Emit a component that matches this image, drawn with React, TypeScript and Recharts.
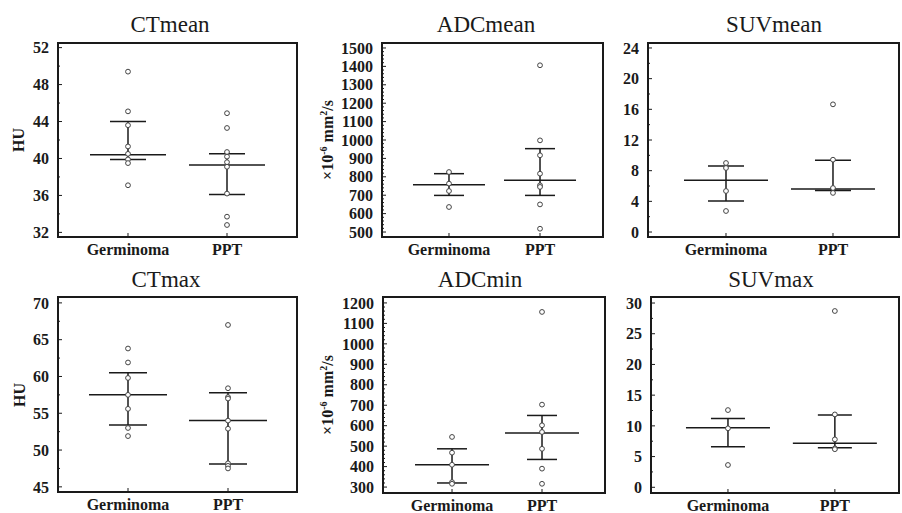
import { ComposedChart, Scatter, XAxis, YAxis, ErrorBar } from 'recharts';

const groups = ['Germinoma', 'PPT'];

// CTmean (HU)
const ctMeanGerm = [49.4, 45.1, 43.6, 41.3, 40.5, 39.9, 39.5, 37.1];
const ctMeanPpt = [44.9, 43.3, 40.7, 40.2, 39.6, 39.1, 36.2, 33.7, 32.8];
const ctMeanMedian = [40.4, 39.3];
const ctMeanQ1 = [39.9, 36.1];
const ctMeanQ3 = [44.0, 40.5];
const ctMeanTicks = [32, 36, 40, 44, 48, 52];

// ADCmean (x10^-6 mm2/s)
const adcMeanGerm = [826, 763, 723, 636];
const adcMeanPpt = [1406, 998, 917, 817, 754, 745, 650, 518];
const adcMeanMedian = [757, 781];
const adcMeanQ1 = [699, 699];
const adcMeanQ3 = [817, 953];
const adcMeanTicks = [500, 600, 700, 800, 900, 1000, 1100, 1200, 1300, 1400, 1500];

// SUVmean
const suvMeanGerm = [9.0, 8.35, 5.35, 2.74];
const suvMeanPpt = [16.65, 9.43, 5.74, 5.1];
const suvMeanMedian = [6.74, 5.6];
const suvMeanQ1 = [4.04, 5.43];
const suvMeanQ3 = [8.6, 9.35];
const suvMeanTicks = [0, 4, 8, 12, 16, 20, 24];

// CTmax (HU)
const ctMaxGerm = [63.8, 61.9, 59.8, 57.5, 55.6, 53.0, 51.9];
const ctMaxPpt = [67.0, 58.4, 57.2, 57.0, 54.0, 52.9, 48.2, 47.85, 47.5];
const ctMaxMedian = [57.5, 54.0];
const ctMaxQ1 = [53.4, 48.1];
const ctMaxQ3 = [60.5, 57.8];
const ctMaxTicks = [45, 50, 55, 60, 65, 70];

// ADCmin (x10^-6 mm2/s)
const adcMinGerm = [545, 468, 409, 324, 316];
const adcMinPpt = [1156, 703, 602, 569, 487, 390, 316];
const adcMinMedian = [409, 564];
const adcMinQ1 = [320, 435];
const adcMinQ3 = [487, 650];
const adcMinTicks = [300, 400, 500, 600, 700, 800, 900, 1000, 1100, 1200];

// SUVmax
const suvMaxGerm = [12.57, 9.6, 3.63];
const suvMaxPpt = [28.7, 11.86, 7.8, 6.34, 6.2];
const suvMaxMedian = [9.7, 7.15];
const suvMaxQ1 = [6.6, 6.45];
const suvMaxQ3 = [11.2, 11.75];
const suvMaxTicks = [0, 5, 10, 15, 20, 25, 30];

const INK = '#1a1a1a';
const FONT = "'Liberation Serif', 'DejaVu Serif', serif";

const panels = [
  {
    title: 'CTmean', label: 'HU', germ: ctMeanGerm, ppt: ctMeanPpt, median: ctMeanMedian, q1: ctMeanQ1, q3: ctMeanQ3,
    ticks: ctMeanTicks, minorStep: 2, yDomain: [31.5, 52.5], xDomain: [0.293, 2.707],
    box: { l: 58, r: 297, t: 43, b: 237 }, left: 0, titleX: 170, titleTop: 13, labelX: 19, medHalf: 38, capHalf: 18,
  },
  {
    title: 'ADCmean', label: 'adc', germ: adcMeanGerm, ppt: adcMeanPpt, median: adcMeanMedian, q1: adcMeanQ1, q3: adcMeanQ3,
    ticks: adcMeanTicks, minorStep: 20, yDomain: [473, 1527], xDomain: [0.264, 2.692],
    box: { l: 382, r: 603, t: 43, b: 237 }, left: 300, titleX: 486, titleTop: 13, labelX: 328, medHalf: 36, capHalf: 15,
  },
  {
    title: 'SUVmean', label: '', germ: suvMeanGerm, ppt: suvMeanPpt, median: suvMeanMedian, q1: suvMeanQ1, q3: suvMeanQ3,
    ticks: suvMeanTicks, minorStep: 2, yDomain: [-0.65, 24.65], xDomain: [0.271, 2.617],
    box: { l: 648, r: 899, t: 43, b: 237 }, left: 600, titleX: 774, titleTop: 13, labelX: 0, medHalf: 42, capHalf: 18,
  },
  {
    title: 'CTmax', label: 'HU', germ: ctMaxGerm, ppt: ctMaxPpt, median: ctMaxMedian, q1: ctMaxQ1, q3: ctMaxQ3,
    ticks: ctMaxTicks, minorStep: 2.5, yDomain: [44.3, 70.8], xDomain: [0.3, 2.69],
    box: { l: 58, r: 297, t: 297, b: 492 }, left: 0, titleX: 166, titleTop: 268, labelX: 20, medHalf: 39, capHalf: 19,
  },
  {
    title: 'ADCmin', label: 'adc', germ: adcMinGerm, ppt: adcMinPpt, median: adcMinMedian, q1: adcMinQ1, q3: adcMinQ3,
    ticks: adcMinTicks, minorStep: 20, yDomain: [271, 1229], xDomain: [0.233, 2.7],
    box: { l: 383, r: 605, t: 297, b: 493 }, left: 300, titleX: 480, titleTop: 268, labelX: 328, medHalf: 37, capHalf: 15,
  },
  {
    title: 'SUVmax', label: '', germ: suvMaxGerm, ppt: suvMaxPpt, median: suvMaxMedian, q1: suvMaxQ1, q3: suvMaxQ3,
    ticks: suvMaxTicks, minorStep: 2.5, yDomain: [-0.93, 30.98], xDomain: [0.28, 2.6],
    box: { l: 651, r: 899, t: 297, b: 493 }, left: 600, titleX: 771, titleTop: 268, labelX: 0, medHalf: 42, capHalf: 17,
  },
];

type PanelDef = (typeof panels)[number];

const tickStyle = { fill: INK, fontSize: 16, fontWeight: 700, fontFamily: FONT };
const Y_TICK_MARGIN = 13;
const Y_TICK_SIZE = 4;

// major + minor tick values along the y axis (minor ones carry no label)
function allTicks(p: PanelDef) {
  const out: number[] = [];
  const first = p.ticks[0];
  const last = p.ticks[p.ticks.length - 1];
  const n = Math.round((last - first) / p.minorStep);
  for (let i = 0; i <= n; i++) out.push(+(first + i * p.minorStep).toFixed(4));
  return out;
}

function YTick(props: any) {
  const { x, y, payload, majors } = props;
  const axisX = x + Y_TICK_MARGIN - Y_TICK_SIZE;
  const isMajor = majors.includes(payload.value);
  return (
    <g>
      <line x1={axisX} x2={axisX + (isMajor ? 4 : 2)} y1={y} y2={y} stroke={INK} strokeWidth={1} />
      {isMajor && (
        <text x={x} y={y} dy="0.355em" textAnchor="end" {...tickStyle}>
          {payload.value}
        </text>
      )}
    </g>
  );
}

function YLabel({ p }: { p: PanelDef }) {
  if (!p.label) return null;
  return (
    <div
      style={{
        position: 'absolute',
        left: p.labelX,
        top: (p.box.t + p.box.b) / 2,
        transform: 'translate(-50%, -50%) rotate(-90deg)',
        whiteSpace: 'nowrap',
        fontFamily: FONT,
        fontSize: 16,
        fontWeight: 700,
        color: INK,
        lineHeight: '18px',
      }}
    >
      {p.label === 'HU' ? (
        'HU'
      ) : (
        <>
          ×10<sup style={{ fontSize: 10, lineHeight: 0 }}>-6</sup> mm<sup style={{ fontSize: 10, lineHeight: 0 }}>2</sup>/s
        </>
      )}
    </div>
  );
}

function Panel({ p }: { p: PanelDef }) {
  const wY = p.box.l - p.left;
  const width = p.box.r - p.left + 5;
  const height = p.box.b - p.box.t + 35;
  const points = [
    ...p.germ.map((v) => ({ x: 1, y: v })),
    ...p.ppt.map((v) => ({ x: 2, y: v })),
  ];
  const summary = [0, 1].map((i) => ({
    x: i + 1,
    y: p.median[i],
    iqr: [p.median[i] - p.q1[i], p.q3[i] - p.median[i]],
  }));
  const medHalf = p.medHalf;

  return (
    <>
      <div
        style={{
          position: 'absolute',
          left: p.titleX,
          top: p.titleTop,
          transform: 'translateX(-50%)',
          whiteSpace: 'nowrap',
          fontFamily: FONT,
          fontSize: 23,
          color: INK,
          lineHeight: '23px',
        }}
      >
        {p.title}
      </div>
      <YLabel p={p} />
      <div style={{ position: 'absolute', left: p.left, top: p.box.t - 5 }}>
        <ComposedChart width={width} height={height} margin={{ top: 5, right: 5, bottom: 0, left: 0 }}>
          <XAxis
            type="number"
            dataKey="x"
            domain={p.xDomain}
            ticks={[1, 2]}
            interval={0}
            allowDataOverflow
            height={30}
            tickSize={-4}
            tickMargin={11}
            tickFormatter={(v: number) => groups[v - 1]}
            tick={tickStyle}
            axisLine={false}
            tickLine={{ stroke: INK }}
          />
          <YAxis
            type="number"
            dataKey="y"
            domain={p.yDomain}
            ticks={allTicks(p)}
            interval={0}
            allowDataOverflow
            width={wY}
            tickSize={-Y_TICK_SIZE}
            tickMargin={Y_TICK_MARGIN}
            tick={(t: any) => <YTick {...t} majors={p.ticks} />}
            axisLine={false}
            tickLine={false}
          />
          <Scatter
            data={summary}
            isAnimationActive={false}
            shape={(s: any) => (
              <line x1={s.cx - medHalf} x2={s.cx + medHalf} y1={s.cy} y2={s.cy} stroke={INK} strokeWidth={1.5} />
            )}
          >
            <ErrorBar dataKey="iqr" direction="y" width={p.capHalf} stroke={INK} strokeWidth={1.5} isAnimationActive={false} />
          </Scatter>
          <Scatter
            data={points}
            isAnimationActive={false}
            shape={(s: any) => <circle cx={s.cx} cy={s.cy} r={2.4} fill="#fff" stroke="#444" strokeWidth={1} />}
          />
        </ComposedChart>
      </div>
      <div
        style={{
          position: 'absolute',
          left: p.box.l - 1,
          top: p.box.t - 1,
          width: p.box.r - p.box.l + 2,
          height: p.box.b - p.box.t + 2,
          border: `2px solid ${INK}`,
          boxSizing: 'border-box',
          pointerEvents: 'none',
        }}
      />
    </>
  );
}

export default function App() {
  return (
    <div style={{ position: 'absolute', left: 0, top: 0, width: 902, height: 513, background: '#fff', overflow: 'hidden' }}>
      {panels.map((p) => (
        <Panel key={p.title} p={p} />
      ))}
    </div>
  );
}
